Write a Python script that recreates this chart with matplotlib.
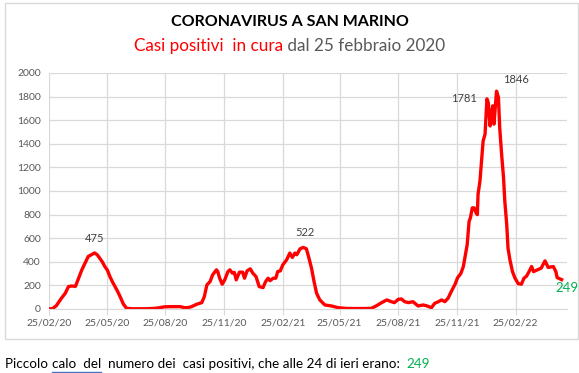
import matplotlib
matplotlib.use("Agg")
import matplotlib.pyplot as plt
import pandas as pd
from matplotlib.patches import Rectangle
from matplotlib.lines import Line2D

plt.rcParams["font.family"] = ["Lato", "DejaVu Sans"]

# days after 25/02/2020 and active cases
days = [0, 5, 11, 15, 19, 25, 30, 35, 41, 45, 51, 56, 61, 66, 71, 75, 79, 83, 87, 91,
        95, 99, 103, 107, 111, 116, 121, 130, 150, 165, 173, 180, 189, 197, 205, 212,
        218, 223, 231, 239, 243, 247, 252, 256, 262, 264, 267, 271, 275, 280, 283, 287,
        290, 293, 298, 303, 306, 310, 315, 319, 324, 329, 335, 339, 343, 346, 351, 355,
        358, 362, 366, 372, 377, 381, 385, 388, 393, 398, 403, 407, 411, 415, 419, 424,
        432, 442, 453, 465, 480, 495, 505, 513, 521, 529, 536, 541, 547, 552, 557, 563,
        570, 578, 586, 591, 599, 604, 610, 615, 620, 625, 630, 636, 640, 645, 649, 652,
        655, 658, 660, 663, 666, 669, 671, 672, 675, 678, 680, 683, 686, 688, 691, 693,
        695, 697, 701, 704, 706, 709, 712, 714, 717, 719, 722, 726, 730, 735, 740, 744,
        748, 752, 756, 759, 765, 771, 777, 782, 790, 794, 796, 803]
cases = [1, 3, 28, 60, 91, 133, 190, 195, 192, 247, 332, 389, 445, 460, 475, 460, 431, 400, 360, 330,
         275, 230, 190, 150, 105, 43, 6, 2, 2, 5, 11, 18, 20, 20, 20, 11,
         12, 20, 40, 54, 105, 204, 232, 289, 332, 318, 261, 210, 247, 317, 332, 304,
         310, 247, 312, 312, 261, 323, 340, 304, 275, 190, 181, 232, 261, 240, 261, 261,
         317, 323, 374, 417, 474, 437, 474, 460, 510, 522, 510, 431, 346, 232, 133, 77,
         34, 26, 11, 5, 4, 4, 6, 28, 54, 77, 62, 54, 82, 85, 62, 54,
         62, 26, 34, 28, 11, 48, 62, 77, 62, 91, 147, 210, 265, 300, 360, 450,
         545, 743, 771, 857, 857, 814, 800, 970, 1083, 1282, 1424, 1481, 1781, 1750, 1551, 1650,
         1722, 1566, 1846, 1793, 1537, 1310, 1112, 913, 715, 516, 417, 317, 261, 215, 210, 261,
         278, 317, 360, 317, 332, 346, 408, 352, 360, 317, 266, 249]

tick_labels = ["25/02/20", "25/05/20", "25/08/20", "25/11/20", "25/02/21",
               "25/05/21", "25/08/21", "25/11/21", "25/02/22"]
y_ticks = [0, 200, 400, 600, 800, 1000, 1200, 1400, 1600, 1800, 2000]

# labelled points: (day, text, offset in pixels)
labels = [(71, "475", (0, 9)), (398, "522", (2, 9)),
          (686, "1781", (-23, 0)), (701, "1846", (19, 6))]

start = pd.Timestamp("2020-02-25")
dates = start + pd.to_timedelta(days, unit="D")
tick_dates = pd.to_datetime(tick_labels, format="%d/%m/%y")

fig = plt.figure(figsize=(5.79, 3.73), dpi=100)
ax = fig.add_axes([49.3 / 579, 1 - 309 / 373, (566.7 - 49.3) / 579, (309 - 73) / 373])

ax.plot(dates, cases, color="#ff0000", lw=2.4, solid_joinstyle="round")

ax.set_xlim(start, start + pd.Timedelta(days=811))
ax.set_ylim(0, 2000)
ax.set_xticks(tick_dates)
ax.set_xticklabels(tick_labels)
ax.set_yticks(y_ticks)
ax.set_yticklabels([str(v) for v in y_ticks])
ax.grid(True, color="#d9d9d9", lw=0.9)
ax.set_axisbelow(True)
for s in ["left", "top", "right"]:
    ax.spines[s].set_visible(False)
ax.spines["bottom"].set_color("#d9d9d9")
ax.tick_params(axis="y", length=0, pad=6, labelsize=7.5, labelcolor="#595959")
ax.tick_params(axis="x", length=4, color="#d9d9d9", pad=2.5, labelsize=7.5, labelcolor="#595959")

for d, txt, off in labels:
    v = cases[days.index(d)]
    ax.annotate(txt, (start + pd.Timedelta(days=d), v), xytext=off,
                textcoords="offset pixels", ha="center", va="bottom" if off[1] > 0 else "center",
                fontsize=8, color="#404040")
ax.annotate(str(cases[-1]), (dates[-1], cases[-1]), xytext=(5, -8), textcoords="offset pixels",
            ha="center", va="center", fontsize=9.5, color="#00b050")

# chart border
fig.patches.append(Rectangle((5 / 579, 1 - 339 / 373), 573 / 579, 336 / 373,
                             transform=fig.transFigure, fill=False, edgecolor="#d9d9d9", lw=1))

fig.text(0.5, 1 - 22 / 373, "CORONAVIRUS A SAN MARINO", ha="center", va="center",
         fontsize=11.5, fontweight="bold", color="black")

renderer = fig.canvas.get_renderer()


def run_text(pieces, x, y, ha="left", size=10):
    # place coloured pieces one after another on a line
    objs = [fig.text(0, y, t, color=c, fontsize=size, va="center") for t, c in pieces]
    widths = [o.get_window_extent(renderer).width for o in objs]
    total = sum(widths)
    px = x * fig.bbox.width - (total / 2 if ha == "center" else 0)
    out = []
    for o, w in zip(objs, widths):
        o.set_x(px / fig.bbox.width)
        out.append((px, w))
        px += w
    return out


run_text([("Casi positivi  in cura", "#ff0000"), (" dal 25 febbraio 2020", "#595959")],
         0.5, 1 - 46 / 373, ha="center", size=12.3)

parts = run_text([("Piccolo ", "black"), ("calo  del", "black"),
                  ("  numero dei  casi positivi, che alle 24 di ieri erano:  ", "black"),
                  ("249", "#00b050")], 5 / 579, 1 - 364 / 373, size=9.7)
ux, uw = parts[1]
uy = 1 - 371.5 / 373
fig.lines.append(Line2D([ux / 579, (ux + uw) / 579], [uy, uy], transform=fig.transFigure,
                        color="#4472c4", lw=1))

fig.savefig("out.png", dpi=100)
